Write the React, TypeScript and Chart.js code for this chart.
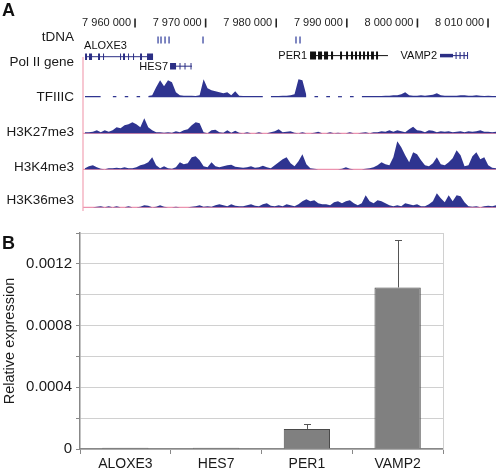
import React, { useEffect, useRef } from 'react';
import { Chart, registerables } from 'chart.js';

Chart.register(...registerables);

const FONT = '"Liberation Sans", Arial, Helvetica, sans-serif';

// ---------------- Panel A data ----------------
const REGION_START = 7952630;
const REGION_END = 8011130;
const BIN_SIZE = 560;
const RULER_TICKS = [7960000, 7970000, 7980000, 7990000, 8000000, 8010000];
const TRACK_NAMES = ['tDNA', 'Pol II gene', 'TFIIIC', 'H3K27me3', 'H3K4me3', 'H3K36me3'];

const TFIIIC = [
  1.2, 1.2, 1.4, 1.2, 1.2, null, null, 1.2, 1.2, null,
  1.2, 1.2, null, 1.2, 1.2, null, 1.2, 2, 10, 17,
  11, 17, 15, 5, 2, 1.5, 1.5, 1.5, 1.2, 2,
  18, 9, 7, 6, 5, 4, 5, 2, 6, 1.5,
  1.2, 1.2, 1.2, 1.2, 1.2, 1.2, null, 1.2, 1.2, 1.2,
  1.5, 1.5, 2, 3, 18, 17, 2, null, 1.2, 1.2,
  null, 1.2, 1.2, null, 1.2, 1.2, null, 1.2, 1.2, null,
  1.2, 1.2, 1.2, 1.2, 1.2, 1.2, 1.5, 1.5, 2, 2,
  3, 5, 2, 1.5, 1.5, 2, 1.5, 2, 2.5, 4,
  2, 1.5, 1.5, 1.5, 1.5, 2, 2, 1.5, 1.5, 2,
  1.5, 1.2, 1.5, 1.2, 1.2, 1.2,
];
const H3K27ME3 = [
  1, 1, 1.5, 3, 1, 3, 1.5, 3, 6, 5,
  8, 9, 11, 9, 6, 15, 6, 3, 1, 1,
  0.5, 1, 0.5, 2, 1, 3, 4, 8, 11, 10,
  1, 0, 3, 3.5, 1, 0.5, 3, 0.5, 2.5, 0.5,
  0, 1, 0, 0, 1, 0, 0, 1, 2, 4,
  1, 1.5, 2, 0.5, 0, 1, 0, 0, 0.5, 1.5,
  0, 0, 1, 0, 0.5, 0, 0, 1, 0, 0,
  0.5, 1, 0, 1, 1, 2, 1.5, 3, 1.5, 3,
  2, 1, 4, 6.5, 3, 2.5, 1, 3, 2.5, 1,
  2, 1.5, 2, 1, 1.5, 2, 1, 2, 1.5, 2,
  3, 1.5, 1.5, 1, 1.5, 1,
];
const H3K4ME3 = [
  1, 3, 4, 2, 0.5, 0, 1, 1, 1.5, 1,
  2, 1, 1, 2, 4, 5, 7, 12, 4, 1,
  3, 1, 0.5, 2, 7, 5, 6, 12, 13, 9,
  3, 2, 7, 3, 2, 3, 4, 4.5, 2.5, 2,
  1.5, 2, 3, 1.5, 2, 3.5, 2, 1, 4, 7,
  10, 12, 6, 3, 8, 15, 5, 1, 0.5, 0,
  0, 0, 0, 0, 0, 0.5, 2, 0.5, 0, 0,
  0, 0.5, 1, 2, 4, 7, 5, 4, 12, 28,
  22, 14, 7, 17, 15, 9, 4, 3, 6, 12,
  5, 4, 7, 11, 19, 14, 3, 4, 13, 17,
  10, 12, 4, 1.5, 1, 1,
];
const H3K36ME3 = [
  0, 0, 0, 0.5, 1, 0, 1, 0, 1, 0,
  0, 1, 0, 0, 0.5, 2, 1.5, 0, 0.5, 2,
  0.5, 0, 0, 0.5, 0, 0, 0, 0.5, 1, 2,
  0.5, 1, 0.5, 2, 3, 2, 1, 3, 1.5, 1,
  1, 2, 3, 1.5, 1, 3, 4, 1.5, 1, 2,
  1, 3, 2, 1, 3, 6, 8, 6, 7, 4,
  3, 3, 2, 5, 6, 4, 6, 7, 4, 2,
  4, 12, 6, 4, 7, 6, 4, 2, 1, 2,
  1, 4, 3, 2, 3, 1, 1, 3, 6, 14,
  9, 5, 12, 6, 12, 11, 5, 1, 0.5, 1,
  0, 1, 1.5, 1, 2, 1,
];

const TDNA_POSITIONS = [7963260, 7963680, 7964250, 7964820, 7969630, 7982800, 7983370];

const GENE_NAMES = ['ALOXE3', 'HES7', 'PER1', 'VAMP2'];
const GENE_SPANS = [
  [7952920, 7962550],
  [7964960, 7968070],
  [7984790, 7995830],
  [8003200, 8007170],
];
const GENE_EXONS = [
  [[7952920, 7953200], [7953480, 7953910], [7954760, 7955040], [7955470, 7955610], [7957880, 7958020],
   [7958300, 7958580], [7959010, 7959150], [7959720, 7959860], [7960710, 7960990], [7961700, 7962550]],
  [[7964960, 7965810], [7966300, 7966440], [7967010, 7967150], [7967860, 7968000]],
  [[7984790, 7985640], [7985920, 7986490], [7986770, 7987340], [7987760, 7988050], [7989040, 7989320],
   [7989890, 7990170], [7990590, 7990880], [7991160, 7991440], [7991730, 7992010], [7992290, 7992580],
   [7992860, 7993140], [7993430, 7993840], [7994140, 7994420], [7995700, 7995830]],
  [[8005400, 8005550], [8005960, 8006120], [8006530, 8006690], [8007030, 8007170]],
];
const GENE_UTR = [[], [], [], [[8003200, 8005040]]];

// ---------------- Panel B data ----------------
const B_CATEGORIES = ['ALOXE3', 'HES7', 'PER1', 'VAMP2'];
const B_EXPRESSION = [0.000008, 0.000008, 0.00013, 0.001047];
const B_ERROR_UP = [0, 0, 0.000033, 0.000308];
const B_Y_MAX = 0.0014;
const B_Y_STEP = 0.0002;

// ---------------- Layout / styles ----------------
const A_HEIGHT = 215;
const TRACK_LAYOUT = [
  { values: TFIIIC, base: 97.3, baseline: false },
  { values: H3K27ME3, base: 133.3, baseline: true },
  { values: H3K4ME3, base: 169.3, baseline: true },
  { values: H3K36ME3, base: 207.3, baseline: true },
];
const TRACK_LABEL_Y = [37.5, 62.5, 97, 132, 167, 200];
const GENE_LANE_Y = [56.7, 66.2, 55.6, 55.6];
const GENE_EXON_W = [6.5, 6.5, 8, 7];
const GENE_COLOR = ['#2c2f85', '#2c2f85', '#111111', '#2c2f85'];
const GENE_LABEL = [
  { align: 'left', dx: -1, y: 45.5 },
  { align: 'right', dx: -2, y: 66.5 },
  { align: 'right', dx: -3, y: 56 },
  { align: 'right', dx: -3, y: 56 },
];
const SIGNAL_COLOR = '#2f3490';
const BASELINE_COLOR = '#e8799b';

const binX = (i: number) => REGION_START + BIN_SIZE * (i + 0.5);

function buildPanelA(): any {
  const datasets: any[] = [];
  const base = { pointRadius: 0, tension: 0, spanGaps: false, order: 0 };

  TRACK_LAYOUT.forEach((t) => {
    if (t.baseline) {
      datasets.push({
        ...base,
        data: [{ x: REGION_START, y: t.base }, { x: REGION_END, y: t.base }],
        borderColor: BASELINE_COLOR,
        borderWidth: 1,
        fill: false,
        order: 2,
      });
    }
    datasets.push({
      ...base,
      data: t.values.map((v, i) => ({ x: binX(i), y: v == null ? null : t.base - v })),
      borderColor: SIGNAL_COLOR,
      borderWidth: 0,
      backgroundColor: SIGNAL_COLOR,
      fill: { value: t.base },
      order: 1,
    });
  });

  // left pink border
  datasets.push({
    ...base,
    data: [{ x: REGION_START, y: 57 }, { x: REGION_START, y: 211 }],
    borderColor: '#f2a3b5',
    borderWidth: 1.2,
    fill: false,
    clip: false,
  });

  // tDNA marks
  const tdnaPts: any[] = [];
  TDNA_POSITIONS.forEach((p) => {
    tdnaPts.push({ x: p, y: 36.5 }, { x: p, y: 43.5 }, { x: p, y: null });
  });
  datasets.push({ ...base, data: tdnaPts, borderColor: '#4a55a8', borderWidth: 1.4, fill: false });

  // genes
  GENE_NAMES.forEach((_, g) => {
    const lane = GENE_LANE_Y[g];
    datasets.push({
      ...base,
      data: [{ x: GENE_SPANS[g][0], y: lane }, { x: GENE_SPANS[g][1], y: lane }],
      borderColor: GENE_COLOR[g],
      borderWidth: 1,
      fill: false,
    });
    const ex: any[] = [];
    GENE_EXONS[g].forEach(([s, e]) => ex.push({ x: s, y: lane }, { x: e, y: lane }, { x: e, y: null }));
    datasets.push({
      ...base,
      data: ex,
      borderColor: GENE_COLOR[g],
      borderWidth: GENE_EXON_W[g],
      borderCapStyle: 'butt',
      fill: false,
    });
    if (GENE_UTR[g].length) {
      const ut: any[] = [];
      GENE_UTR[g].forEach(([s, e]) => ut.push({ x: s, y: lane }, { x: e, y: lane }, { x: e, y: null }));
      datasets.push({
        ...base,
        data: ut,
        borderColor: GENE_COLOR[g],
        borderWidth: 3.5,
        borderCapStyle: 'butt',
        fill: false,
      });
    }
  });

  const textPlugin = {
    id: 'panelAText',
    afterDraw(chart: any) {
      const ctx = chart.ctx;
      const xs = chart.scales.x;
      ctx.save();
      ctx.fillStyle = '#111';
      ctx.textBaseline = 'middle';
      ctx.font = `bold 18px ${FONT}`;
      ctx.textAlign = 'left';
      ctx.fillText('A', 2, 11.5);

      // ruler
      ctx.font = `11px ${FONT}`;
      ctx.textAlign = 'right';
      ctx.fillStyle = '#222';
      ctx.strokeStyle = '#222';
      ctx.lineWidth = 1.6;
      RULER_TICKS.forEach((v) => {
        const px = xs.getPixelForValue(v);
        const s = String(v).replace(/\B(?=(\d{3})+(?!\d))/g, ' ');
        ctx.fillText(s, px - 4, 23);
        ctx.beginPath();
        ctx.moveTo(px, 18.5);
        ctx.lineTo(px, 27.5);
        ctx.stroke();
      });

      // track names
      ctx.font = `13.5px ${FONT}`;
      ctx.fillStyle = '#1a1a1a';
      ctx.textAlign = 'right';
      TRACK_NAMES.forEach((n, i) => ctx.fillText(n, 74, TRACK_LABEL_Y[i]));

      // gene names
      ctx.font = `11px ${FONT}`;
      ctx.fillStyle = '#111';
      GENE_NAMES.forEach((n, g) => {
        const lab = GENE_LABEL[g];
        const px = xs.getPixelForValue(GENE_SPANS[g][0]);
        ctx.textAlign = lab.align;
        ctx.fillText(n, px + lab.dx, lab.y);
      });
      ctx.restore();
    },
  };

  return {
    type: 'line',
    data: { datasets },
    options: {
      animation: false,
      responsive: false,
      devicePixelRatio: 1,
      layout: { padding: { left: 83, right: 0, top: 0, bottom: 0 } },
      plugins: { legend: { display: false }, tooltip: { enabled: false } },
      scales: {
        x: { type: 'linear', min: REGION_START, max: REGION_END, display: false },
        y: { type: 'linear', min: 0, max: A_HEIGHT, reverse: true, display: false },
      },
    },
    plugins: [textPlugin],
  };
}

function buildPanelB(): any {
  const errorPlugin = {
    id: 'errorBars',
    afterDatasetsDraw(chart: any) {
      const meta = chart.getDatasetMeta(0);
      const ys = chart.scales.y;
      const ctx = chart.ctx;
      ctx.save();
      ctx.strokeStyle = '#555';
      ctx.lineWidth = 1;
      B_EXPRESSION.forEach((v, i) => {
        const e = B_ERROR_UP[i];
        if (!e) return;
        const x = Math.round(meta.data[i].x) + 0.5;
        const y0 = ys.getPixelForValue(v);
        const y1 = Math.round(ys.getPixelForValue(v + e)) + 0.5;
        ctx.beginPath();
        ctx.moveTo(x, y0);
        ctx.lineTo(x, y1);
        ctx.moveTo(x - 3.5, y1);
        ctx.lineTo(x + 3.5, y1);
        ctx.stroke();
      });
      ctx.restore();
    },
    afterDraw(chart: any) {
      const ctx = chart.ctx;
      ctx.save();
      ctx.font = `bold 18px ${FONT}`;
      ctx.fillStyle = '#111';
      ctx.textBaseline = 'middle';
      ctx.textAlign = 'left';
      ctx.fillText('B', 2, 29);
      ctx.restore();
    },
  };

  return {
    type: 'bar',
    data: {
      labels: B_CATEGORIES,
      datasets: [
        {
          data: B_EXPRESSION,
          backgroundColor: '#808080',
          borderColor: '#4a4a4a',
          borderWidth: 1,
          barPercentage: 0.51,
          categoryPercentage: 1,
        },
      ],
    },
    options: {
      animation: false,
      responsive: false,
      devicePixelRatio: 1,
      layout: { padding: { left: 0, right: 53, top: 18, bottom: 0 } },
      plugins: { legend: { display: false }, tooltip: { enabled: false } },
      scales: {
        x: {
          type: 'category',
          grid: { display: true, drawOnChartArea: false, drawTicks: true, tickLength: 5, color: '#888', offset: true },
          border: { display: true, color: '#888', width: 1.5 },
          ticks: { font: { size: 14, family: FONT }, color: '#1a1a1a', padding: 2, maxRotation: 0, autoSkip: false },
          afterFit: (s: any) => { s.height = 25; },
        },
        y: {
          type: 'linear',
          position: 'left',
          min: 0,
          max: B_Y_MAX,
          grid: { color: '#d0d0d0', lineWidth: 1, tickColor: '#888', tickLength: 4 },
          border: { display: true, color: '#888', width: 1.5 },
          ticks: {
            stepSize: B_Y_STEP,
            autoSkip: false,
            padding: 4,
            color: '#1a1a1a',
            font: { size: 15, family: FONT },
            callback: (v: number) => {
              const k = Math.round(v / B_Y_STEP);
              if (k % 2 !== 0 || k === 7) return '';
              return k === 0 ? '0' : (k * B_Y_STEP).toFixed(4);
            },
          },
          title: {
            display: true,
            text: 'Relative expression',
            color: '#1a1a1a',
            font: { size: 14.5, family: FONT },
            padding: { top: 1, bottom: 0 },
          },
          afterFit: (s: any) => { s.width = 80; },
        },
        y2: {
          type: 'linear',
          position: 'right',
          min: 0,
          max: 1,
          grid: { display: false },
          ticks: { display: false },
          border: { display: true, color: '#d0d0d0', width: 1 },
          afterFit: (s: any) => { s.width = 0; },
        },
      },
    },
    plugins: [errorPlugin],
  };
}

export default function App() {
  const refA = useRef<HTMLCanvasElement>(null);
  const refB = useRef<HTMLCanvasElement>(null);

  useEffect(() => {
    const a = new Chart(refA.current as HTMLCanvasElement, buildPanelA());
    const b = new Chart(refB.current as HTMLCanvasElement, buildPanelB());
    return () => {
      a.destroy();
      b.destroy();
    };
  }, []);

  return (
    <div style={{ position: 'fixed', left: 0, top: 0, width: 496, height: 474, background: '#fff' }}>
      <canvas
        ref={refA}
        width={496}
        height={A_HEIGHT}
        style={{ position: 'absolute', left: 0, top: 0, width: 496, height: A_HEIGHT }}
      />
      <canvas
        ref={refB}
        width={496}
        height={474 - A_HEIGHT}
        style={{ position: 'absolute', left: 0, top: A_HEIGHT, width: 496, height: 474 - A_HEIGHT }}
      />
    </div>
  );
}
